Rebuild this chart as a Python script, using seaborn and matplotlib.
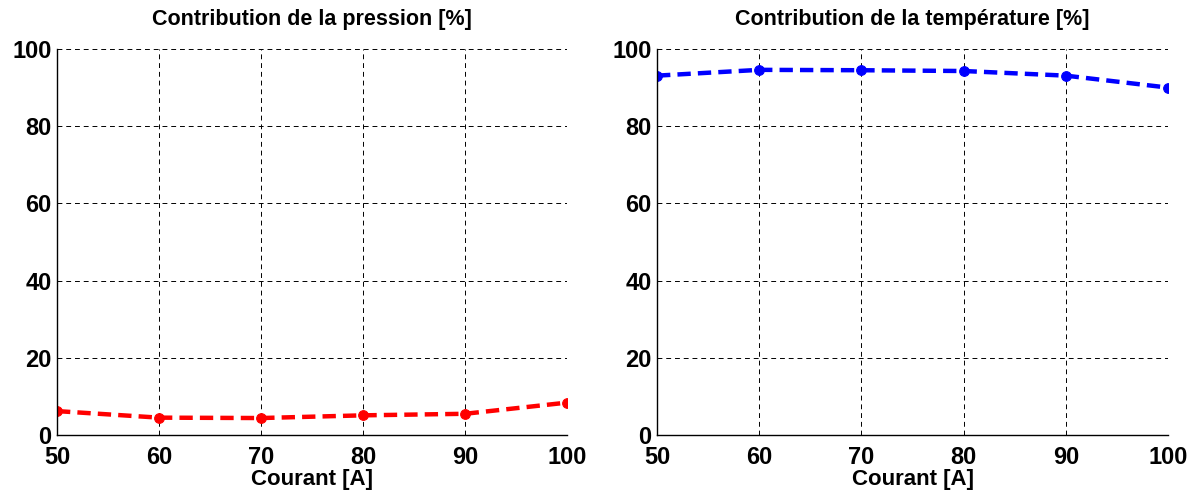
import pandas as pd
import numpy as np
import matplotlib
matplotlib.use('Agg')
import matplotlib.pyplot as plt
import seaborn as sns

# data
courant = [50, 60, 70, 80, 90, 100]
pression = [6.2, 4.5, 4.4, 5.1, 5.5, 8.4]
temperature = [93.1, 94.6, 94.5, 94.3, 93.1, 90.0]

data = pd.DataFrame({'courant': courant, 'pression': pression, 'temperature': temperature})

sns.set_style('white')
plt.rcParams['font.family'] = ['Liberation Sans', 'DejaVu Sans']
plt.rcParams['font.weight'] = 'bold'
plt.rcParams['text.color'] = 'black'
plt.rcParams['axes.labelcolor'] = 'black'
plt.rcParams['xtick.color'] = 'black'
plt.rcParams['ytick.color'] = 'black'

fig = plt.figure(figsize=(11.97, 4.97), dpi=100)
ax1 = fig.add_axes([0.0476, 0.1247, 0.4261, 0.7767])
ax2 = fig.add_axes([0.5489, 0.1247, 0.4269, 0.7767])


def panel(ax, col, color, title):
    sns.lineplot(data=data, x='courant', y=col, ax=ax, color=color, linewidth=3.2,
                 linestyle=(0, (3, 1.6)), marker='o', markersize=7, markeredgecolor=color)
    ax.set_xlim(50, 100)
    ax.set_ylim(0, 100)
    ax.set_xticks(courant)
    ax.set_yticks([0, 20, 40, 60, 80, 100])
    ax.grid(True, color='black', linestyle=(0, (5, 4)), linewidth=0.7)
    for s in ['top', 'right']:
        ax.spines[s].set_visible(False)
    for s in ['left', 'bottom']:
        ax.spines[s].set_color('black')
        ax.spines[s].set_linewidth(1)
    ax.tick_params(axis='both', labelsize=17, direction='in', length=4, width=0.8,
                   labelcolor='black')
    ax.tick_params(axis='x', pad=8)
    ax.tick_params(axis='y', pad=4)
    for t in ax.get_xticklabels() + ax.get_yticklabels():
        t.set_fontweight('bold')
    ax.set_title(title, fontsize=15.5, fontweight='bold', pad=17, color='black')
    ax.set_xlabel('Courant [A]', fontsize=16, fontweight='bold', labelpad=0, color='black')
    ax.set_ylabel('')


panel(ax1, 'pression', '#ff0000', 'Contribution de la pression [%]')
panel(ax2, 'temperature', '#0000ff', 'Contribution de la température [%]')

plt.savefig('out.png', dpi=100)
